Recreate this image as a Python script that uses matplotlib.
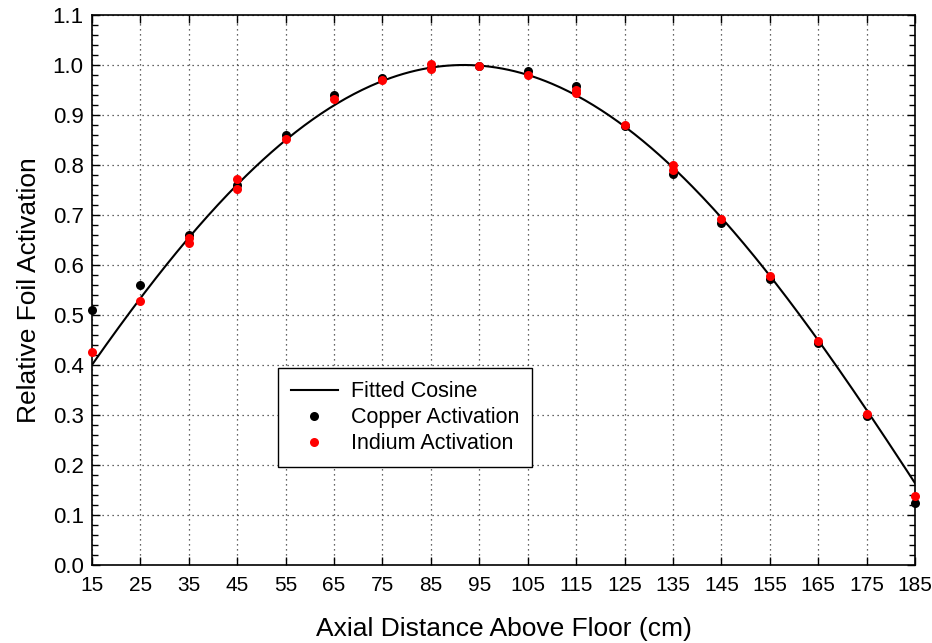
import numpy as np
import matplotlib
matplotlib.use("Agg")
import matplotlib.pyplot as plt
from matplotlib.ticker import MultipleLocator

plt.rcParams['font.family'] = ['Liberation Sans', 'DejaVu Sans']

# Data
distance_cm = [15, 25, 35, 45, 55, 65, 75, 85, 95, 105, 115, 125, 135, 145, 155, 165, 175, 185]
copper = [0.510, 0.560, 0.660, 0.760, 0.861, 0.941, 0.975, 0.995, 0.998, 0.988, 0.959, 0.878,
          0.783, 0.685, 0.573, 0.445, 0.298, 0.125]
indium = [0.426, 0.528, 0.645, 0.752, 0.852, 0.933, 0.970, 0.993, 0.999, 0.981, 0.945, 0.880,
          0.791, 0.693, 0.578, 0.448, 0.302, 0.138]
# repeat indium readings visible as overlapping dots
indium_repeat_x = [35, 45, 85, 115, 135]
indium_repeat = [0.655, 0.773, 1.003, 0.951, 0.801]

# fitted cosine parameters
fit_amp = 1.0
fit_center = 91.8
fit_k = 0.01509

xfit = np.linspace(15, 185, 400)
yfit = fit_amp * np.cos(fit_k * (xfit - fit_center))

fig = plt.figure(figsize=(9.32, 6.43), dpi=100)
ax = fig.add_axes([92/932, (643-565)/643, (915-92)/932, (565-15)/643])

ax.plot(xfit, yfit, color='black', lw=1.5, label='Fitted Cosine', zorder=3)
ax.plot(distance_cm, copper, 'o', color='black', ms=6.5, mec='none', label='Copper Activation', zorder=4, clip_on=False)
ax.plot(distance_cm, indium, 'o', color='red', ms=6.5, mec='none', label='Indium Activation', zorder=5, clip_on=False)
ax.plot(indium_repeat_x, indium_repeat, 'o', color='red', ms=6.5, mec='none', zorder=5, clip_on=False)

ax.set_xlim(15, 185)
ax.set_ylim(0.0, 1.1)
ax.set_xticks(np.arange(15, 186, 10))
ax.yaxis.set_major_locator(MultipleLocator(0.1))
ax.yaxis.set_minor_locator(MultipleLocator(0.02))
ax.yaxis.set_major_formatter(matplotlib.ticker.FormatStrFormatter('%.1f'))

ax.grid(True, which='major', linestyle=(0, (1, 3)), color='#333333', lw=0.9)
ax.tick_params(which='both', direction='in', top=True, right=True)
ax.tick_params(which='major', length=6, width=1)
ax.tick_params(which='minor', length=4, width=1)
ax.tick_params(axis='x', pad=8, labelsize=15)
ax.tick_params(axis='y', pad=6, labelsize=16)
for s in ax.spines.values():
    s.set_linewidth(1.2)

ax.set_xlabel('Axial Distance Above Floor (cm)', fontsize=19, labelpad=16)
ax.set_ylabel('Relative Foil Activation', fontsize=19, labelpad=8)

leg = ax.legend(loc='lower left', bbox_to_anchor=(0.226, 0.178), fontsize=15.5, fancybox=False,
                framealpha=1, edgecolor='black', borderpad=0.59, handlelength=2.2,
                handletextpad=0.6, labelspacing=0.24, borderaxespad=0)
leg.get_frame().set_linewidth(1.0)

fig.savefig('out.png', dpi=100)
